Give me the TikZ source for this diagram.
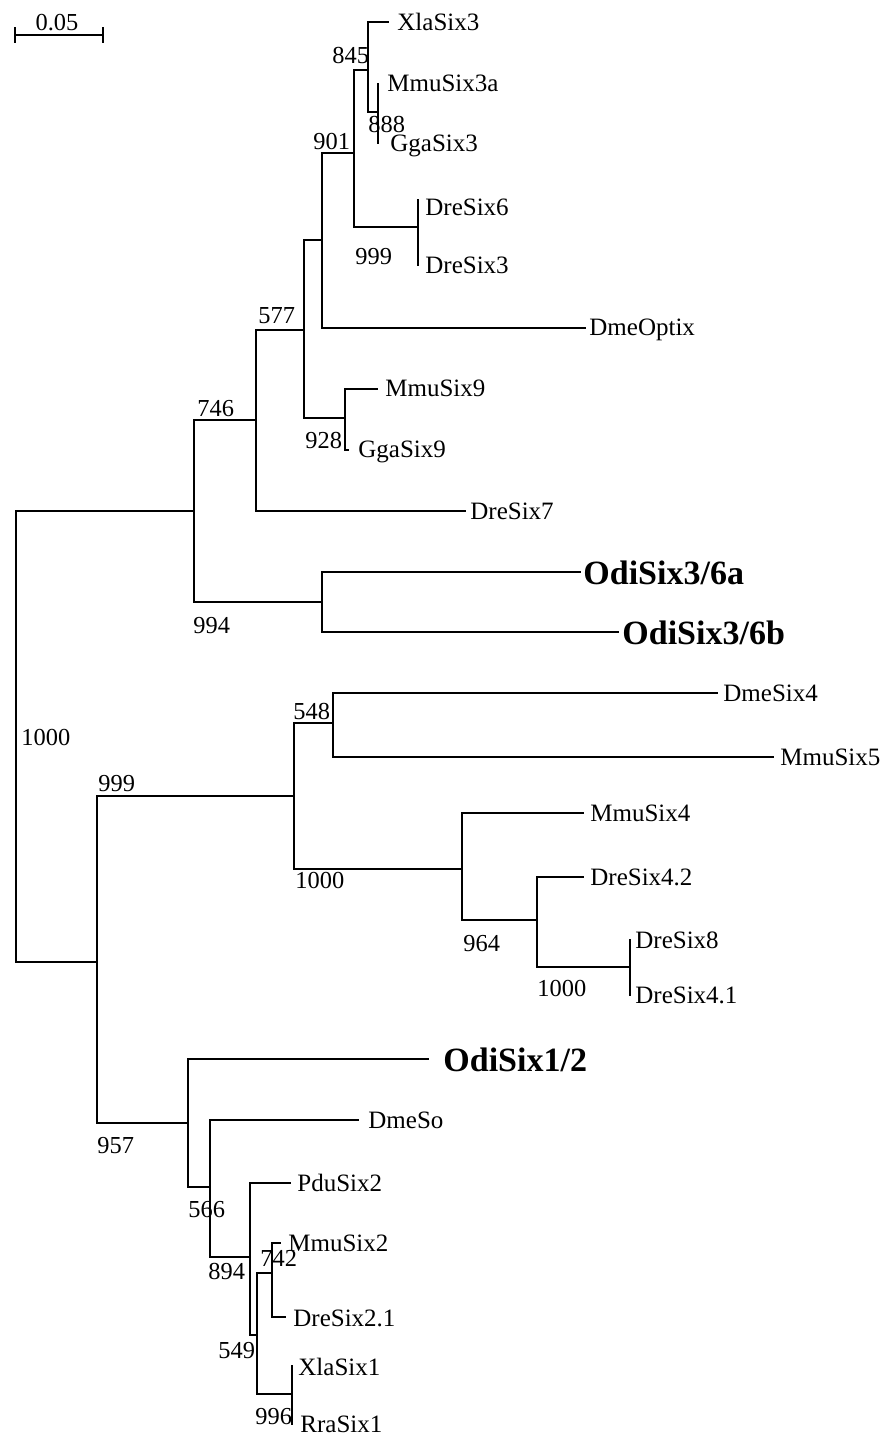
\documentclass[tikz,border=0pt]{standalone}
\usepackage{fontspec}
\setmainfont{Liberation Serif}
\tikzset{
  branch/.style={line width=1.1pt, line cap=rect},
  leaf/.style={anchor=base west, inner sep=0pt, font=\fontsize{12.5}{15}\selectfont},
  oddleaf/.style={anchor=base west, inner sep=0pt, font=\fontsize{17}{20}\selectfont\bfseries},
  boot/.style={anchor=base west, inner sep=0pt, font=\fontsize{12.2}{15}\selectfont},
}
\begin{document}
\begin{tikzpicture}[x=0.5pt, y=-0.5pt]
\useasboundingbox (0,0) rectangle (895,1438);

% Scale bar
\coordinate (sbl) at (15,35);
\coordinate (sbr) at (103,35);
\draw [branch] (sbl) -- (sbr);
\draw [branch] ([yshift=3.5pt]sbl) -- ([yshift=-3.5pt]sbl);
\draw [branch] ([yshift=3.5pt]sbr) -- ([yshift=-3.5pt]sbr);
\node [boot, anchor=base] (sblab) at (57,31) {0.05};

% Internal nodes
\coordinate (nA) at (378,112);
\coordinate (nB) at (368,70);
\coordinate (nC) at (354,153);
\coordinate (nD) at (418,227);
\coordinate (nE) at (322,240);
\coordinate (nF) at (304,330);
\coordinate (nG) at (345,418);
\coordinate (nH) at (256,420);
\coordinate (nI) at (194,511);
\coordinate (nJ) at (322,602);
\coordinate (nR) at (16,736);
\coordinate (nK) at (97,962);
\coordinate (nL) at (294,796);
\coordinate (nM) at (333,723);
\coordinate (nN) at (462,869);
\coordinate (nO) at (537,920);
\coordinate (nP) at (630,967);
\coordinate (nS) at (188,1123);
\coordinate (nT) at (210,1187);
\coordinate (nU) at (250,1257);
\coordinate (nV) at (257,1335);
\coordinate (nW) at (272,1273);
\coordinate (nX) at (292,1394);

% Tips
\coordinate (xla3) at (388,22);
\coordinate (mmu3a) at (378,84);
\coordinate (gga3) at (378,143);
\coordinate (dre6) at (418,200);
\coordinate (dre3) at (418,265);
\coordinate (optix) at (585,328);
\coordinate (mmu9) at (377,389);
\coordinate (gga9) at (348,450);
\coordinate (dre7) at (465,511);
\coordinate (odi6a) at (580,572);
\coordinate (odi6b) at (618,632);
\coordinate (dme4) at (717,693);
\coordinate (mmu5) at (773,757);
\coordinate (mmu4) at (583,813);
\coordinate (dre42) at (583,877);
\coordinate (dre8) at (630,940);
\coordinate (dre41) at (630,995);
\coordinate (odi12) at (428,1059);
\coordinate (dmeso) at (358,1120);
\coordinate (pdu2) at (290,1183);
\coordinate (mmu2) at (280,1243);
\coordinate (dre21) at (285,1317);
\coordinate (xla1) at (292,1366);
\coordinate (rra1) at (292,1424);

% Drawing branches, Six3/6 clade
\draw [branch] (nR) |- (nI);
\draw [branch] (nI) |- (nH);  \draw [branch] (nI) |- (nJ);
\draw [branch] (nH) |- (nF);  \draw [branch] (nH) |- (dre7);
\draw [branch] (nF) |- (nE);  \draw [branch] (nF) |- (nG);
\draw [branch] (nE) |- (nC);  \draw [branch] (nE) |- (optix);
\draw [branch] (nC) |- (nB);  \draw [branch] (nC) |- (nD);
\draw [branch] (nB) |- (xla3);  \draw [branch] (nB) |- (nA);
\draw [branch] (nA) |- (mmu3a);  \draw [branch] (nA) |- (gga3);
\draw [branch] (nD) |- (dre6);  \draw [branch] (nD) |- (dre3);
\draw [branch] (nG) |- (mmu9);  \draw [branch] (nG) |- (gga9);
\draw [branch] (nJ) |- (odi6a);  \draw [branch] (nJ) |- (odi6b);

% Drawing branches, Six4/5 and Six1/2 clades
\draw [branch] (nR) |- (nK);
\draw [branch] (nK) |- (nL);  \draw [branch] (nK) |- (nS);
\draw [branch] (nL) |- (nM);  \draw [branch] (nL) |- (nN);
\draw [branch] (nM) |- (dme4);  \draw [branch] (nM) |- (mmu5);
\draw [branch] (nN) |- (mmu4);  \draw [branch] (nN) |- (nO);
\draw [branch] (nO) |- (dre42);  \draw [branch] (nO) |- (nP);
\draw [branch] (nP) |- (dre8);  \draw [branch] (nP) |- (dre41);
\draw [branch] (nS) |- (odi12);  \draw [branch] (nS) |- (nT);
\draw [branch] (nT) |- (dmeso);  \draw [branch] (nT) |- (nU);
\draw [branch] (nU) |- (pdu2);  \draw [branch] (nU) |- (nV);
\draw [branch] (nV) |- (nW);  \draw [branch] (nV) |- (nX);
\draw [branch] (nW) |- (mmu2);  \draw [branch] (nW) |- (dre21);
\draw [branch] (nX) |- (xla1);  \draw [branch] (nX) |- (rra1);

% Marking leaves
\node [leaf] (l-xla3) at (397,31) {XlaSix3};
\node [leaf] (l-mmu3a) at (387,92) {MmuSix3a};
\node [leaf] (l-gga3) at (390,152) {GgaSix3};
\node [leaf] (l-dre6) at (425,216) {DreSix6};
\node [leaf] (l-dre3) at (425,274) {DreSix3};
\node [leaf] (l-optix) at (589,336) {DmeOptix};
\node [leaf] (l-mmu9) at (385,397) {MmuSix9};
\node [leaf] (l-gga9) at (358,458) {GgaSix9};
\node [leaf] (l-dre7) at (470,519) {DreSix7};
\node [oddleaf] (l-odi6a) at (583,584) {OdiSix3/6a};
\node [oddleaf] (l-odi6b) at (622,644) {OdiSix3/6b};
\node [leaf] (l-dme4) at (723,701) {DmeSix4};
\node [leaf] (l-mmu5) at (780,765) {MmuSix5};
\node [leaf] (l-mmu4) at (590,821) {MmuSix4};
\node [leaf] (l-dre42) at (590,885) {DreSix4.2};
\node [leaf] (l-dre8) at (635,948) {DreSix8};
\node [leaf] (l-dre41) at (635,1003) {DreSix4.1};
\node [oddleaf] (l-odi12) at (443,1071) {OdiSix1/2};
\node [leaf] (l-dmeso) at (368,1128) {DmeSo};
\node [leaf] (l-pdu2) at (297,1191) {PduSix2};
\node [leaf] (l-mmu2) at (288,1251) {MmuSix2};
\node [leaf] (l-dre21) at (293,1326) {DreSix2.1};
\node [leaf] (l-xla1) at (298,1375) {XlaSix1};
\node [leaf] (l-rra1) at (300,1432) {RraSix1};

% Marking bootstrap values
\node [boot] (b-a) at (368,133) {888};
\node [boot] (b-b) at (332,64) {845};
\node [boot] (b-c) at (313,150) {901};
\node [boot] (b-d) at (355,265) {999};
\node [boot] (b-f) at (258,324) {577};
\node [boot] (b-g) at (305,448) {928};
\node [boot] (b-h) at (197,416) {746};
\node [boot] (b-j) at (193,633) {994};
\node [boot] (b-r) at (21,745) {1000};
\node [boot] (b-l) at (98,791) {999};
\node [boot] (b-m) at (293,719) {548};
\node [boot] (b-n) at (295,888) {1000};
\node [boot] (b-o) at (463,951) {964};
\node [boot] (b-p) at (537,996) {1000};
\node [boot] (b-s) at (97,1153) {957};
\node [boot] (b-t) at (188,1217) {566};
\node [boot] (b-u) at (208,1279) {894};
\node [boot] (b-w) at (260,1266) {742};
\node [boot] (b-v) at (218,1358) {549};
\node [boot] (b-x) at (255,1424) {996};
\end{tikzpicture}
\end{document}
